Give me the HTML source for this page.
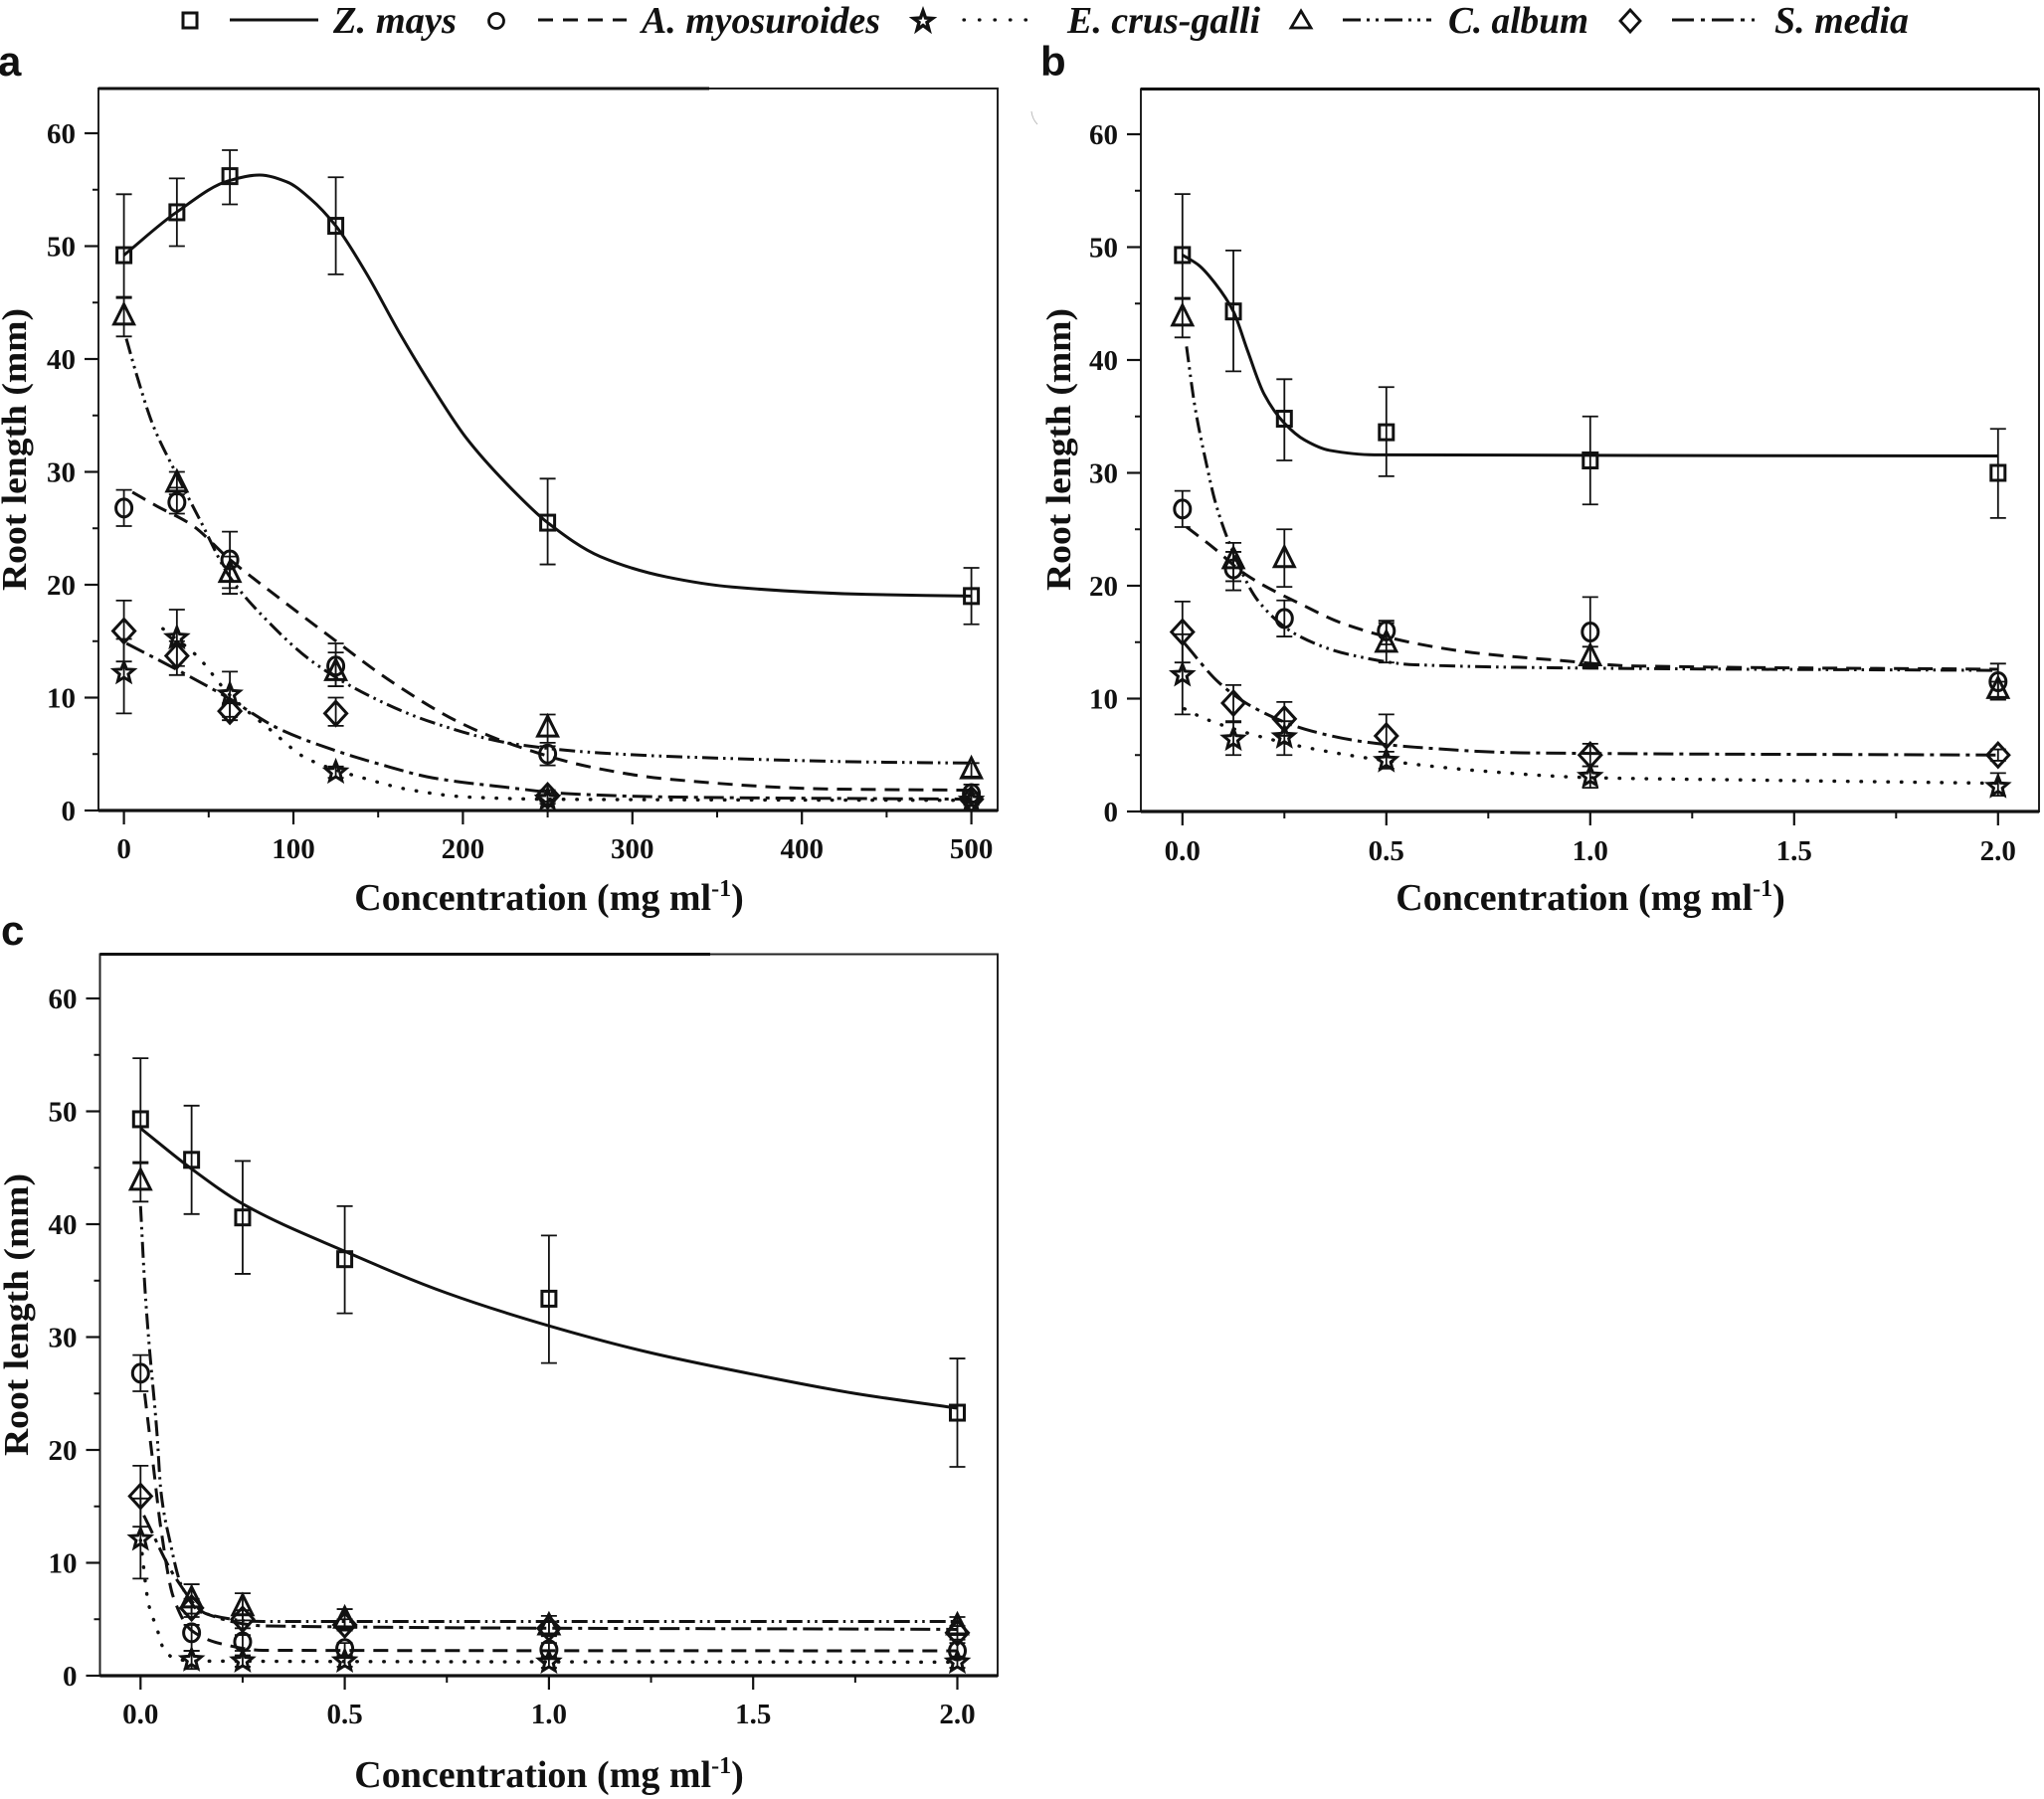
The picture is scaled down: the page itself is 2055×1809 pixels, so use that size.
<!DOCTYPE html>
<html lang="en">
<head>
<meta charset="utf-8">
<title>Root length vs concentration</title>
<style>
html,body{margin:0;padding:0;background:#fff;}
svg{display:block;}
text{font-family:"Liberation Serif",serif;font-weight:bold;fill:#111;}
.tick{font-size:29px;}
.axt{font-size:38px;}
.ayt{font-size:35px;}
.leg{font-size:38px;font-style:italic;}
.let{font-family:"Liberation Sans",sans-serif;font-size:42px;}
</style>
</head>
<body>
<svg id="chart" width="2055" height="1809" viewBox="0 0 2055 1809" xmlns="http://www.w3.org/2000/svg">
<rect width="2055" height="1809" fill="#fff"/>
<g id="legend" fill="none" stroke="#111">
<g>
<rect x="184" y="13" width="14" height="15" stroke-width="3"/>
<line x1="231" y1="20" x2="320" y2="20" stroke-width="3"/>
<text class="leg" x="335" y="33" textLength="124" lengthAdjust="spacingAndGlyphs" stroke="none">Z. mays</text>
</g>
<g>
<circle cx="499" cy="21" r="7.5" stroke-width="2.8"/>
<line x1="541" y1="20" x2="630" y2="20" stroke-width="3" stroke-dasharray="15 10"/>
<text class="leg" x="645" y="33" textLength="240" lengthAdjust="spacingAndGlyphs" stroke="none">A. myosuroides</text>
</g>
<g>
<polygon points="928,11 930.5,18 937.5,18.5 932,22.5 934,30 928,25.5 922,30 924,22.5 918.5,18.5 925.5,18" stroke-width="3.4"/>
<line x1="969" y1="20" x2="1042" y2="20" stroke-width="3.2" stroke-linecap="round" stroke-dasharray="0.5 15"/>
<text class="leg" x="1073" y="33" textLength="194" lengthAdjust="spacingAndGlyphs" stroke="none">E. crus-galli</text>
</g>
<g>
<polygon points="1308,11 1318,28 1298,28" stroke-width="2.8"/>
<line x1="1350" y1="20" x2="1439" y2="20" stroke-width="3" stroke-dasharray="18 6 3 6 3 6"/>
<text class="leg" x="1456" y="33" textLength="141" lengthAdjust="spacingAndGlyphs" stroke="none">C. album</text>
</g>
<g>
<polygon points="1639,10 1649,21 1639,32 1629,21" stroke-width="2.8"/>
<line x1="1681" y1="20" x2="1764" y2="20" stroke-width="3" stroke-dasharray="22 7 4 7"/>
<text class="leg" x="1784" y="33" textLength="135" lengthAdjust="spacingAndGlyphs" stroke="none">S. media</text>
</g>
</g>
<text class="let" x="-2" y="76">a</text>
<text class="let" x="1046" y="76">b</text>
<text class="let" x="1" y="950">c</text>
<text class="ayt" transform="translate(26,452) rotate(-90)" text-anchor="middle" textLength="284" lengthAdjust="spacingAndGlyphs">Root length (mm)</text>
<text class="ayt" transform="translate(1076,452) rotate(-90)" text-anchor="middle" textLength="284" lengthAdjust="spacingAndGlyphs">Root length (mm)</text>
<text class="ayt" transform="translate(28,1322) rotate(-90)" text-anchor="middle" textLength="284" lengthAdjust="spacingAndGlyphs">Root length (mm)</text>
<text class="axt" x="552" y="915" text-anchor="middle">Concentration (mg ml<tspan font-size="24" dy="-14">-1</tspan><tspan dy="14">)</tspan></text>
<text class="axt" x="1599" y="915" text-anchor="middle">Concentration (mg ml<tspan font-size="24" dy="-14">-1</tspan><tspan dy="14">)</tspan></text>
<text class="axt" x="552" y="1797" text-anchor="middle">Concentration (mg ml<tspan font-size="24" dy="-14">-1</tspan><tspan dy="14">)</tspan></text>
<path d="M1037 112 Q1038 120 1043 125" fill="none" stroke="#bbb" stroke-width="1"/>
<g id="panels"></g>
</svg>
<script>
// ---------- tick labels and tick values ----------
const yTickValues = [0, 10, 20, 30, 40, 50, 60];
const yTickLabels = ['0', '10', '20', '30', '40', '50', '60'];
const yMinorTicks = [5, 15, 25, 35, 45, 55];
const aTickValues = [0, 100, 200, 300, 400, 500];
const aTickLabels = ['0', '100', '200', '300', '400', '500'];
const aMinorTicks = [50, 150, 250, 350, 450];
const bcTickValues = [0, 0.5, 1, 1.5, 2];
const bcTickLabels = ['0.0', '0.5', '1.0', '1.5', '2.0'];
const bcMinorTicks = [0.25, 0.75, 1.25, 1.75];

// ---------- panel a ----------
const aDoses = [0, 31.25, 62.5, 125, 250, 500];
const aZmays = [49.2, 53, 56.2, 51.8, 25.5, 19];
const aZmaysHi = [54.6, 56, 58.5, 56.1, 29.4, 21.5];
const aZmaysLo = [45.4, 50, 53.7, 47.5, 21.8, 16.5];
const aZmaysFitX = [0, 31, 62, 80, 96, 110, 125, 143, 163, 182, 202, 232, 250, 281, 320, 359, 438, 500];
const aZmaysFitY = [49.2, 53, 55.8, 56.3, 55.7, 54.2, 51.8, 47.6, 42.2, 37.5, 33, 28, 25.5, 22.5, 20.7, 19.8, 19.15, 19];
const aAmyo = [26.8, 27.3, 22.2, 12.8, 5, 1.5];
const aAmyoHi = [28.4, 28.6, 24.7, 14.8, 5.7, 2.3];
const aAmyoLo = [25.2, 26.3, 19.7, 11, 4, 0.8];
const aAmyoFitX = [5, 19, 40, 62, 90, 119, 159, 198, 230, 277, 320, 418, 500];
const aAmyoFitY = [28.2, 27, 25.3, 22.3, 19, 15.7, 11.3, 7.8, 5.8, 3.8, 2.8, 1.9, 1.8];
const aEcrus = [12.2, 15.3, 10.3, 3.4, 1, 0.9];
const aEcrusHi = [15.2, 17.8, 12.3, 3.9, 1.4, 1.3];
const aEcrusLo = [8.6, 12.8, 8.3, 2.9, 0.6, 0.5];
const aEcrusFitX = [23, 43, 62, 86, 108, 143, 170, 202, 250, 500];
const aEcrusFitY = [16.1, 13.7, 10.3, 7.2, 4.6, 2.8, 1.8, 1.2, 1, 0.9];
const aCalbum = [43.8, 29, 21, 12.3, 7.3, 3.6];
const aCalbumHi = [45.5, 30, 22.5, 14, 8.5, 4.2];
const aCalbumLo = [42, 28, 19.2, 11, 6, 3];
const aCalbumFitX = [1.4, 7.5, 17, 31, 45, 62, 84, 112, 151, 182, 230, 281, 359, 438, 500];
const aCalbumFitY = [41.8, 38.6, 34.2, 29.8, 25.7, 20.8, 16.9, 13.1, 9.7, 7.8, 5.9, 5.1, 4.6, 4.3, 4.2];
const aSmedia = [15.9, 13.7, 8.8, 8.6, 1.3, 1];
const aSmediaHi = [18.6, 15, 9.5, 10, 1.8, 1.5];
const aSmediaLo = [13.2, 12, 8, 7.5, 0.8, 0.5];
const aSmediaFitX = [1.5, 31, 60, 92, 123, 151, 182, 226, 261, 320, 500];
const aSmediaFitY = [14.8, 12.5, 10.1, 7.2, 5.4, 4.1, 2.9, 2.05, 1.5, 1.2, 1];

// ---------- panel b ----------
const bDoses = [0, 0.125, 0.25, 0.5, 1, 2];
const bZmays = [49.3, 44.3, 34.8, 33.6, 31.1, 30];
const bZmaysHi = [54.7, 49.7, 38.3, 37.6, 35, 33.9];
const bZmaysLo = [45.4, 39, 31.1, 29.7, 27.2, 26];
const bZmaysFitX = [0, 0.04, 0.08, 0.125, 0.16, 0.2, 0.25, 0.3, 0.36, 0.47, 2];
const bZmaysFitY = [49.3, 48.4, 46.8, 44.3, 40.8, 37, 34.4, 32.9, 32, 31.6, 31.5];
const bAmyo = [26.8, 21.5, 17.1, 16, 15.9, 11.5];
const bAmyoHi = [28.4, 23, 18.7, 16.9, 19, 13.1];
const bAmyoLo = [25.2, 19.6, 15.5, 14.8, 12.8, 9.9];
const bAmyoFitX = [0.01, 0.075, 0.155, 0.3, 0.39, 0.57, 0.73, 0.92, 1.1, 2];
const bAmyoFitY = [25.2, 23.4, 21, 18.2, 16.7, 14.9, 14, 13.4, 12.9, 12.6];
const bEcrus = [12.1, 6.4, 6.6, 4.5, 3.1, 2.2];
const bEcrusHi = [15.7, 7.9, 8, 5.3, 4, 3.4];
const bEcrusLo = [8.6, 5, 5, 3.8, 2.1, 1.4];
const bEcrusFitX = [0.005, 0.05, 0.155, 0.3, 0.5, 0.73, 1, 1.37, 2];
const bEcrusFitY = [9.1, 8.3, 7, 5.7, 4.5, 3.6, 3, 2.8, 2.5];
const bCalbum = [43.8, 22.3, 22.4, 14.9, 13.7, 10.8];
const bCalbumHi = [45.5, 23.8, 25, 16.7, 14.6, 11.5];
const bCalbumLo = [42, 20.4, 19.9, 13.2, 12.7, 9.9];
const bCalbumFitX = [0.01, 0.03, 0.06, 0.08, 0.117, 0.187, 0.283, 0.41, 0.57, 1, 2];
const bCalbumFitY = [41.2, 36, 30.6, 27.5, 23.6, 18.6, 15.6, 13.9, 13, 12.7, 12.5];
const bSmedia = [15.9, 9.6, 8.2, 6.7, 5, 5];
const bSmediaHi = [18.6, 11.2, 9.7, 8.6, 6, 5.5];
const bSmediaLo = [13.2, 8, 6.7, 4.8, 4, 4.5];
const bSmediaFitX = [0.005, 0.09, 0.17, 0.3, 0.44, 0.57, 0.83, 2];
const bSmediaFitY = [14.9, 11.4, 9.3, 7.3, 6.2, 5.7, 5.2, 5];

// ---------- panel c ----------
const cDoses = [0, 0.125, 0.25, 0.5, 1, 2];
const cZmays = [49.3, 45.7, 40.6, 36.9, 33.4, 23.3];
const cZmaysHi = [54.7, 50.5, 45.6, 41.6, 39, 28.1];
const cZmaysLo = [45.4, 40.9, 35.6, 32.1, 27.7, 18.5];
const cZmaysFitX = [0, 0.125, 0.25, 0.5, 0.75, 1, 1.25, 1.5, 1.75, 2];
const cZmaysFitY = [48.5, 44.9, 41.8, 37.6, 33.9, 31, 28.6, 26.7, 25, 23.7];
const cAmyo = [26.8, 3.8, 3, 2.4, 2.3, 2.2];
const cAmyoHi = [28.4, 4.5, 3.6, 2.9, 2.9, 2.9];
const cAmyoLo = [25.2, 2.2, 2.2, 1.8, 1.6, 1.5];
const cAmyoFitX = [0.01, 0.03, 0.05, 0.08, 0.125, 0.2, 0.3, 2];
const cAmyoFitY = [25, 19, 13, 7, 4, 2.8, 2.25, 2.2];
const cEcrus = [12.1, 1.4, 1.3, 1.3, 1.2, 1.2];
const cEcrusHi = [15.7, 2.2, 1.8, 1.8, 1.7, 1.7];
const cEcrusLo = [8.6, 0.6, 0.8, 0.8, 0.7, 0.7];
const cEcrusFitX = [0, 0.02, 0.04, 0.055, 0.08, 0.125, 2];
const cEcrusFitY = [12, 6.3, 4.2, 2.5, 1.6, 1.3, 1.2];
const cCalbum = [43.8, 6.8, 6.1, 5, 4.4, 4.4];
const cCalbumHi = [45.5, 8.1, 7.3, 5.9, 5.3, 5.2];
const cCalbumLo = [42, 5.5, 4.9, 4.1, 3.5, 3.6];
const cCalbumFitX = [0, 0.011, 0.02, 0.04, 0.05, 0.072, 0.1, 0.15, 0.3, 2];
const cCalbumFitY = [41.6, 34.2, 29.8, 21.6, 16.3, 11.9, 8, 5.6, 4.8, 4.8];
const cSmedia = [15.9, 6, 5, 4.5, 4.2, 3.8];
const cSmediaHi = [18.6, 6.8, 5.8, 5, 4.8, 4.4];
const cSmediaLo = [13.2, 5.2, 4.2, 4, 3.6, 3.2];
const cSmediaFitX = [0.008, 0.087, 0.16, 0.31, 2];
const cSmediaFitY = [14.2, 8.6, 5.5, 4.4, 4.1];

const NS = 'http://www.w3.org/2000/svg';
const panelsRoot = document.getElementById('panels');

const dashStyles = {
  zmays: '',
  amyo: '15 9',
  ecrus: '0.5 13',
  calbum: '16 5 2.5 5 2.5 5',
  smedia: '20 6 4 6'
};

function make(parent, tag, attrs) {
  const e = document.createElementNS(NS, tag);
  for (const k in attrs) e.setAttribute(k, attrs[k]);
  parent.appendChild(e);
  return e;
}

function fmt(n) { return n.toFixed(2); }

// Monotone cubic path through pixel points
function smoothPath(pts) {
  const n = pts.length;
  if (n < 3) return 'M' + pts.map(p => fmt(p[0]) + ' ' + fmt(p[1])).join('L');
  const dx = [], sl = [], m = new Array(n);
  for (let i = 0; i < n - 1; i++) {
    dx[i] = pts[i + 1][0] - pts[i][0];
    sl[i] = (pts[i + 1][1] - pts[i][1]) / dx[i];
  }
  m[0] = sl[0];
  m[n - 1] = sl[n - 2];
  for (let i = 1; i < n - 1; i++) {
    if (sl[i - 1] * sl[i] <= 0) m[i] = 0;
    else {
      const w1 = 2 * dx[i] + dx[i - 1], w2 = dx[i] + 2 * dx[i - 1];
      m[i] = (w1 + w2) / (w1 / sl[i - 1] + w2 / sl[i]);
    }
  }
  let d = 'M' + fmt(pts[0][0]) + ' ' + fmt(pts[0][1]);
  for (let i = 0; i < n - 1; i++) {
    const h = dx[i] / 3;
    d += 'C' + fmt(pts[i][0] + h) + ' ' + fmt(pts[i][1] + m[i] * h) + ' ' +
         fmt(pts[i + 1][0] - h) + ' ' + fmt(pts[i + 1][1] - m[i + 1] * h) + ' ' +
         fmt(pts[i + 1][0]) + ' ' + fmt(pts[i + 1][1]);
  }
  return d;
}

function drawMarker(parent, kind, cx, cy) {
  const base = { fill: 'none', stroke: '#111', 'stroke-width': 3 };
  if (kind === 'zmays') {
    return make(parent, 'rect', Object.assign({ x: cx - 7, y: cy - 7.5, width: 14, height: 15 }, base));
  }
  if (kind === 'amyo') {
    return make(parent, 'ellipse', Object.assign({ cx: cx, cy: cy, rx: 8, ry: 9 }, base));
  }
  if (kind === 'ecrus') {
    const pts = [];
    for (let i = 0; i < 10; i++) {
      const r = i % 2 ? 4.6 : 10.5;
      const a = -Math.PI / 2 + i * Math.PI / 5;
      pts.push(fmt(cx + r * Math.cos(a)) + ',' + fmt(cy + r * Math.sin(a)));
    }
    return make(parent, 'polygon', Object.assign({ points: pts.join(' ') }, base));
  }
  if (kind === 'calbum') {
    const p = [[cx, cy - 12], [cx + 10, cy + 8], [cx - 10, cy + 8]];
    return make(parent, 'polygon', Object.assign({ points: p.map(q => q.join(',')).join(' ') }, base));
  }
  const p = [[cx, cy - 12], [cx + 11, cy], [cx, cy + 12], [cx - 11, cy]];
  return make(parent, 'polygon', Object.assign({ points: p.map(q => q.join(',')).join(' ') }, base));
}

function drawSeries(root, panel, key, doses, vals, hi, lo, fitX, fitY) {
  const g = make(root, 'g', {});
  
  

  const curvePts = fitX.map((v, i) => [panel.x(v), panel.y(fitY[i])]);
  const attrs = { d: smoothPath(curvePts), fill: 'none', stroke: '#111', 'stroke-width': key === 'ecrus' ? 3.4 : 3 };
  if (dashStyles[key]) attrs['stroke-dasharray'] = dashStyles[key];
  if (key === 'ecrus') attrs['stroke-linecap'] = 'round';
  const curve = make(g, 'path', attrs);
  
  

  doses.forEach((d, i) => {
    const px = panel.x(d);
    const bar = make(g, 'path', {
      d: 'M' + fmt(px) + ' ' + fmt(panel.y(hi[i])) + 'V' + fmt(panel.y(lo[i])) +
         'M' + fmt(px - 8) + ' ' + fmt(panel.y(hi[i])) + 'H' + fmt(px + 8) +
         'M' + fmt(px - 8) + ' ' + fmt(panel.y(lo[i])) + 'H' + fmt(px + 8),
      fill: 'none', stroke: '#111', 'stroke-width': 1.8
    });
    
    

    const mark = drawMarker(g, key, px, panel.y(vals[i]));
    
    
  });
}

function drawAxes(root, panel, xVals, xLabels, xMinor, labelBaseline, thickTo) {
  const g = make(root, 'g', {});
  
  

  const frame = make(g, 'rect', {
    x: panel.left, y: panel.top, width: panel.right - panel.left, height: panel.bottom - panel.top,
    fill: 'none', stroke: '#222', 'stroke-width': 2
  });
  
  

  const base = make(g, 'line', { x1: panel.left, x2: panel.right, y1: panel.bottom, y2: panel.bottom, stroke: '#111', 'stroke-width': 3.2 });
  
  

  const topEdge = make(g, 'line', { x1: panel.left, x2: thickTo, y1: panel.top, y2: panel.top, stroke: '#111', 'stroke-width': 3 });
  
  

  yTickValues.forEach((v, i) => {
    const py = panel.y(v);
    const t = make(g, 'line', { x1: panel.left - 14, x2: panel.left, y1: py, y2: py, stroke: '#111', 'stroke-width': 2.2 });
    
    
    const lab = make(g, 'text', { class: 'tick', x: panel.left - 23, y: py + 10, 'text-anchor': 'end' });
    lab.textContent = yTickLabels[i];
    
    
  });
  yMinorTicks.forEach(v => {
    const py = panel.y(v);
    const t = make(g, 'line', { x1: panel.left - 6, x2: panel.left, y1: py, y2: py, stroke: '#111', 'stroke-width': 2 });
    
    
  });
  xVals.forEach((v, i) => {
    const px = panel.x(v);
    const t = make(g, 'line', { x1: px, x2: px, y1: panel.bottom, y2: panel.bottom + 14, stroke: '#111', 'stroke-width': 2.2 });
    
    
    const lab = make(g, 'text', { class: 'tick', x: px, y: labelBaseline, 'text-anchor': 'middle' });
    lab.textContent = xLabels[i];
    
    
  });
  xMinor.forEach(v => {
    const px = panel.x(v);
    const t = make(g, 'line', { x1: px, x2: px, y1: panel.bottom, y2: panel.bottom + 7, stroke: '#111', 'stroke-width': 2 });
    
    
  });
}

function makePanel(id, left, right, top, bottom, x0, xk, yk) {
  return {
    id, left, right, top, bottom,
    x: v => x0 + v * xk,
    y: v => bottom - v * yk
  };
}

const panelA = makePanel('a', 99, 1003, 89, 815, 124.6, 1.704, 11.35);
const panelB = makePanel('b', 1147, 2050, 89.5, 816, 1188.8, 410, 11.35);
const panelC = makePanel('c', 100.5, 1003, 959.5, 1685, 141.3, 410.6, 11.35);

const gA = make(panelsRoot, 'g', {});


drawAxes(gA, panelA, aTickValues, aTickLabels, aMinorTicks, 863, 713);
drawSeries(gA, panelA, 'smedia', aDoses, aSmedia, aSmediaHi, aSmediaLo, aSmediaFitX, aSmediaFitY);
drawSeries(gA, panelA, 'calbum', aDoses, aCalbum, aCalbumHi, aCalbumLo, aCalbumFitX, aCalbumFitY);
drawSeries(gA, panelA, 'ecrus', aDoses, aEcrus, aEcrusHi, aEcrusLo, aEcrusFitX, aEcrusFitY);
drawSeries(gA, panelA, 'amyo', aDoses, aAmyo, aAmyoHi, aAmyoLo, aAmyoFitX, aAmyoFitY);
drawSeries(gA, panelA, 'zmays', aDoses, aZmays, aZmaysHi, aZmaysLo, aZmaysFitX, aZmaysFitY);

const gB = make(panelsRoot, 'g', {});


drawAxes(gB, panelB, bcTickValues, bcTickLabels, bcMinorTicks, 865, 2050);
drawSeries(gB, panelB, 'smedia', bDoses, bSmedia, bSmediaHi, bSmediaLo, bSmediaFitX, bSmediaFitY);
drawSeries(gB, panelB, 'calbum', bDoses, bCalbum, bCalbumHi, bCalbumLo, bCalbumFitX, bCalbumFitY);
drawSeries(gB, panelB, 'ecrus', bDoses, bEcrus, bEcrusHi, bEcrusLo, bEcrusFitX, bEcrusFitY);
drawSeries(gB, panelB, 'amyo', bDoses, bAmyo, bAmyoHi, bAmyoLo, bAmyoFitX, bAmyoFitY);
drawSeries(gB, panelB, 'zmays', bDoses, bZmays, bZmaysHi, bZmaysLo, bZmaysFitX, bZmaysFitY);

const gC = make(panelsRoot, 'g', {});


drawAxes(gC, panelC, bcTickValues, bcTickLabels, bcMinorTicks, 1733, 714);
drawSeries(gC, panelC, 'smedia', cDoses, cSmedia, cSmediaHi, cSmediaLo, cSmediaFitX, cSmediaFitY);
drawSeries(gC, panelC, 'calbum', cDoses, cCalbum, cCalbumHi, cCalbumLo, cCalbumFitX, cCalbumFitY);
drawSeries(gC, panelC, 'ecrus', cDoses, cEcrus, cEcrusHi, cEcrusLo, cEcrusFitX, cEcrusFitY);
drawSeries(gC, panelC, 'amyo', cDoses, cAmyo, cAmyoHi, cAmyoLo, cAmyoFitX, cAmyoFitY);
drawSeries(gC, panelC, 'zmays', cDoses, cZmays, cZmaysHi, cZmaysLo, cZmaysFitX, cZmaysFitY);
</script>
</body>
</html>
